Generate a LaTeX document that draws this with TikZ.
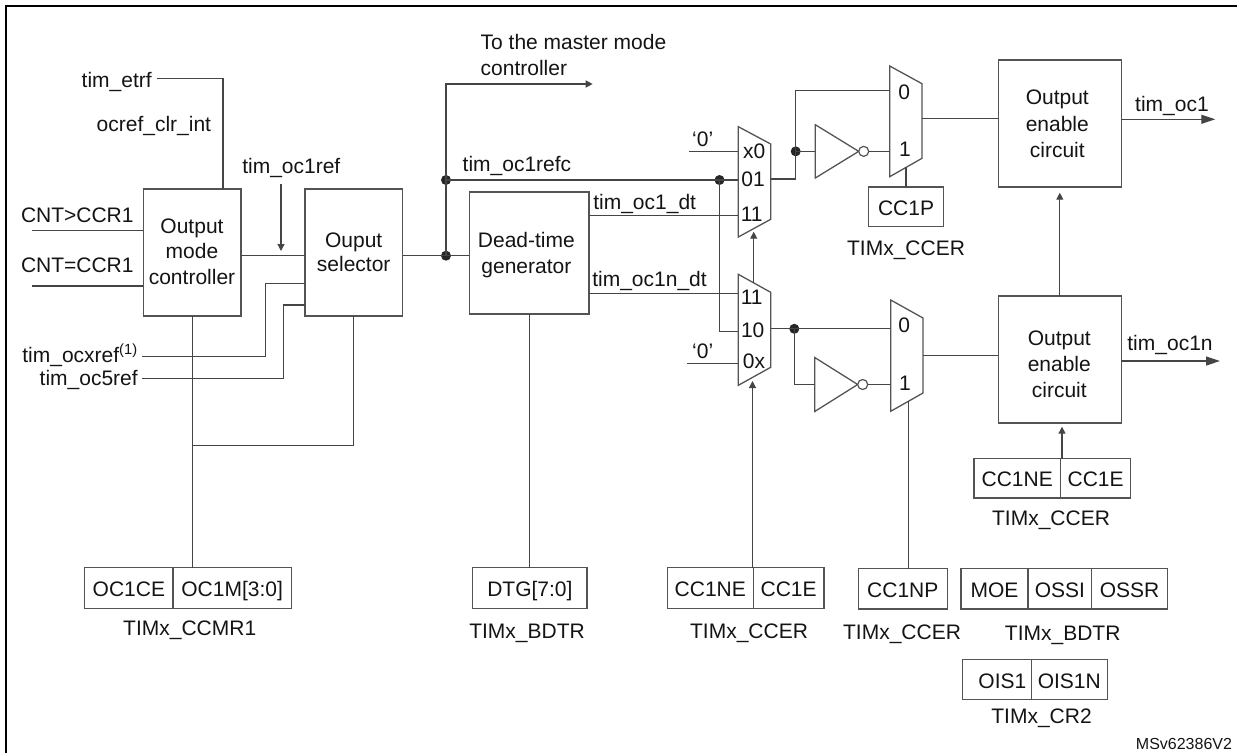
\documentclass[tikz,border=0pt]{standalone}
\usepackage{fontspec}
\setmainfont{Liberation Sans}
\usetikzlibrary{arrows.meta,calc}
\definecolor{wirec}{gray}{0.27}
\definecolor{boxc}{gray}{0.33}
\definecolor{textc}{gray}{0.08}
\tikzset{
  wire/.style={draw=wirec,line width=1.2pt,line join=miter},
  arr/.style={wire,-{Triangle[length=7pt,width=7pt]}},
  bigarr/.style={wire,-{Triangle[length=14pt,width=9pt]}},
  boxst/.style={draw=boxc,line width=1.3pt,rectangle,inner sep=0pt,outer sep=0pt,text=textc,
    font=\fontsize{21}{25}\selectfont},
  cellst/.style={boxst,text height=17pt,text depth=0pt},
  ghost/.style={rectangle,inner sep=0pt,outer sep=0pt},
  shapest/.style={draw=boxc,line width=1.3pt,line join=miter},
  lbl/.style={inner sep=0pt,outer sep=0pt,text=textc,font=\fontsize{21}{25}\selectfont,anchor=base},
  lbll/.style={lbl,anchor=base west},
  multi/.style={inner sep=0pt,outer sep=0pt,text=textc,align=center,anchor=center},
  dotst/.style={circle,fill=black!85,draw=none,minimum size=10pt,inner sep=0pt,outer sep=0pt},
  bubble/.style={circle,draw=boxc,fill=white,line width=1.2pt,minimum size=10pt,inner sep=0pt,outer sep=0pt},
}
% name, x1, x2, y1, y2, text
\newcommand\boxnode[6]{\node[boxst,minimum width={#3-#2},minimum height={#5-#4}] (#1) at ({(#2+#3)/2},{(#4+#5)/2}) {#6};}
\newcommand\cellnode[6]{\node[cellst,minimum width={#3-#2},minimum height={#5-#4}] (#1) at ({(#2+#3)/2},{(#4+#5)/2}) {#6};}
% name, x1, x2, left top, left bottom, right top, right bottom
\newcommand\muxnode[7]{%
  \node[ghost,minimum width={#3-#2},minimum height={#5-#4}] (#1) at ({(#2+#3)/2},{(#4+#5)/2}) {};
  \draw[shapest] (#2,#4) -- (#3,#6) -- (#3,#7) -- (#2,#5) -- cycle;}
% name, x1, tip x, top, bottom
\newcommand\invnode[5]{%
  \node[ghost,minimum width={#3-#2},minimum height={#5-#4}] (#1) at ({(#2+#3)/2},{(#4+#5)/2}) {};
  \draw[shapest] (#2,#4) -- (#3,{(#4+#5)/2}) -- (#2,#5) -- cycle;}
\begin{document}
\begin{tikzpicture}[x=1pt,y=-1pt]
\useasboundingbox (0,0) rectangle (1237,753);
\draw[black,line width=2.2pt] (6,753) -- (6,6) -- (1237,6);

% blocks
\boxnode{omc}{143.3}{241}{189}{316}{}
\boxnode{sel}{305}{402.5}{189}{316}{}
\boxnode{dt}{469.3}{589}{192}{314}{}
\boxnode{ena}{998.3}{1121.3}{60}{187}{}
\boxnode{enb}{998.3}{1121.3}{296}{423}{}
\node[multi,font=\fontsize{21}{25.3}\selectfont] (omct) at (192,251.6) {Output\\mode\\controller};
\node[multi,font=\fontsize{21}{24.4}\selectfont] (selt) at (353.7,252) {Ouput\\selector};
\node[multi,font=\fontsize{21}{26}\selectfont] (dtt) at (526.4,255) {Dead-time\\generator};
\node[multi,font=\fontsize{21}{26.3}\selectfont] (enat) at (1057.3,123.8) {Output\\enable\\circuit};
\node[multi,font=\fontsize{21}{26}\selectfont] (enbt) at (1059.3,364.2) {Output\\enable\\circuit};

% multiplexers and inverters
\muxnode{mux1}{738.3}{770.7}{126.7}{237}{144}{219.3}
\muxnode{mux2}{738.3}{770.7}{274.3}{385.3}{292.3}{367.3}
\muxnode{muxa}{889.7}{922}{66}{176.7}{83.7}{158.3}
\muxnode{muxb}{890.7}{923}{300}{411.3}{318}{393}
\invnode{inva}{815.3}{858.7}{124.7}{178}
\invnode{invb}{814.7}{857.7}{357.5}{411.5}
\node[bubble] (buba) at (863.7,151.35) {};
\node[bubble] (bubb) at (862.7,384.5) {};

% mux pin labels
\node[lbl] (lx0) at (754.3,158.7) {x0};
\node[lbl] (l01) at (753,186.7) {01};
\node[lbl] (l11) at (751.7,221.7) {11};
\node[lbl] (lb11) at (751.7,304) {11};
\node[lbl] (lb10) at (752.7,337.3) {10};
\node[lbl] (lb0x) at (754,368.3) {0x};
\node[lbl] (la0) at (904.3,99) {0};
\node[lbl] (la1) at (905,156.7) {1};
\node[lbl] (lc0) at (904.3,332) {0};
\node[lbl] (lc1) at (905,390.7) {1};

% register cells
\cellnode{oc1ce}{84.7}{173}{567.7}{608.3}{OC1CE}
\cellnode{oc1m}{173}{291.3}{567.7}{608.3}{OC1M[3:0]}
\cellnode{dtg}{472.7}{587}{567.7}{608.3}{DTG[7:0]}
\cellnode{cc1nea}{667.3}{753.3}{567.7}{608.3}{CC1NE}
\cellnode{cc1ea}{753.3}{824}{567.7}{608.3}{CC1E}
\cellnode{cc1np}{858.3}{947.3}{568.7}{609}{CC1NP}
\cellnode{moe}{961}{1028}{568.7}{609}{MOE}
\cellnode{ossi}{1028}{1091.7}{568.7}{609}{OSSI}
\cellnode{ossr}{1091.7}{1167.3}{568.7}{609}{OSSR}
\node[cellst,minimum height=39.6pt,text width=58.6pt,inner xsep=5pt,align=flush right] (ois1) at (997,679.5) {OIS1};
\cellnode{ois1n}{1031.3}{1107.3}{659.7}{699.3}{OIS1N}
\cellnode{cc1p}{868.3}{943.7}{187}{226.7}{CC1P}
\cellnode{cc1neb}{974}{1060.5}{458.7}{498}{CC1NE}
\cellnode{cc1eb}{1060.5}{1130.7}{458.7}{498}{CC1E}

% register captions
\node[lbl] (ccmr) at (189.7,635.7) {TIMx\_CCMR1};
\node[lbl] (bdtra) at (527,638) {TIMx\_BDTR};
\node[lbl] (ccera) at (749,638) {TIMx\_CCER};
\node[lbl] (ccerb) at (902,639) {TIMx\_CCER};
\node[lbl] (bdtrb) at (1062.7,640.3) {TIMx\_BDTR};
\node[lbl] (cr2) at (1041.5,723) {TIMx\_CR2};
\node[lbl] (ccerc) at (906,255) {TIMx\_CCER};
\node[lbl] (ccerd) at (1051,525) {TIMx\_CCER};
\node[lbl,anchor=base east,font=\fontsize{16}{19}\selectfont] (ver) at (1232,749.3) {MSv62386V2};

% signal labels
\node[lbll] (letrf) at (81.7,87.3) {tim\_etrf};
\node[lbll] (lclr) at (96.7,131.7) {ocref\_clr\_int};
\node[lbll] (lref) at (242.3,173) {tim\_oc1ref};
\node[lbll] (lgt) at (21,222.3) {CNT>CCR1};
\node[lbll] (leq) at (21,272.3) {CNT=CCR1};
\node[lbl,anchor=base east] (lx) at (137.7,362.3) {tim\_ocxref\textsuperscript{(1)}};
\node[lbl,anchor=base east] (l5) at (137.7,385) {tim\_oc5ref};
\node[lbll] (lma) at (480.7,49.3) {To the master mode};
\node[lbll] (lmb) at (480.7,75.7) {controller};
\node[lbll] (lrefc) at (462.7,171.7) {tim\_oc1refc};
\node[lbll] (ldt) at (593.3,209) {tim\_oc1\_dt};
\node[lbll] (ldtn) at (592.3,286.7) {tim\_oc1n\_dt};
\node[lbl] (lza) at (702.7,146) {‘0’};
\node[lbl] (lzb) at (702.7,358) {‘0’};
\node[lbl] (loa) at (1172,111) {tim\_oc1};
\node[lbl] (lob) at (1170,350.7) {tim\_oc1n};

% junction dots
\node[dotst] (d1) at (446,255.7) {};
\node[dotst] (d2) at (446,180) {};
\node[dotst] (d3) at (719.5,180) {};
\node[dotst] (d4) at (795.7,151.35) {};
\node[dotst] (d5) at (794.3,328.8) {};

% free ends
\coordinate (etrfs) at (156.7,78.7);
\coordinate (etrfk) at (223,78.7);
\coordinate (gts) at (31.7,230.3);
\coordinate (eqs) at (31.7,286);
\coordinate (refs) at (281,184);
\coordinate (reft) at (281,251);
\coordinate (mainy) at (270,255.7);
\coordinate (xs) at (142.3,356.3);
\coordinate (xk) at (265.7,283.3);
\coordinate (fs) at (142.3,378.3);
\coordinate (fk) at (283.3,305);
\coordinate (br) at (192,445.3);
\coordinate (mastt) at (592.7,84);
\coordinate (dtay) at (650,215.7);
\coordinate (dtby) at (650,293.3);
\coordinate (za) at (689,151.3);
\coordinate (zb) at (686.7,363.7);
\coordinate (m1o) at (770.7,179);
\coordinate (ma0) at (889.7,90.3);
\coordinate (mb1) at (738.3,331.7);
\coordinate (m2t) at (753.7,282.9);
\coordinate (m1t) at (753.7,231.7);
\coordinate (cct) at (752.5,567.7);
\coordinate (m2tip) at (752.5,381);
\coordinate (maout) at (960,118.7);
\coordinate (mbout) at (960,355.7);
\coordinate (mab) at (906,167);
\coordinate (mbb) at (908.3,401.3);
\coordinate (oa) at (1215.3,119.3);
\coordinate (ob) at (1220,361);
\coordinate (entip) at (1059.8,192.7);
\coordinate (eb) at (1062,458.7);
\coordinate (ebt) at (1062,426.7);

% connectors
\draw[wire] (etrfs) -- (etrfk) -- (etrfk |- omc.north);
\draw[wire] (gts) -- (omc.west |- gts);
\draw[wire] (eqs) -- (omc.west |- eqs);
\draw[arr] (refs) -- (reft);
\draw[wire] (omc.east |- mainy) -- (sel.west |- mainy);
\draw[wire] (xs) -| (xk) -- (sel.west |- xk);
\draw[wire] (fs) -| (fk) -- (sel.west |- fk);
\draw[wire] (omc.south) -- (oc1m.north -| omc.south);
\draw[wire] (br) -| (sel.south);
\draw[wire] (sel.east |- d1) -- (dt.west |- d1);
\draw[arr] (d1.center) |- (mastt);
\draw[wire] (d2.center) -- (mux1.west |- d2);
\draw[wire] (dt.south -| dtg.north) -- (dtg.north);
\draw[wire] (dt.east |- dtay) -- (mux1.west |- dtay);
\draw[wire] (dt.east |- dtby) -- (mux2.west |- dtby);
\draw[wire] (za) -- (mux1.west |- za);
\draw[wire] (zb) -- (mux2.west |- zb);
\draw[wire] (d3.center) |- (mb1);
\draw[wire] (m1o) -| (d4.center);
\draw[wire] (d4.center) |- (ma0);
\draw[wire] (d4.center) -- (inva.west |- d4);
\draw[wire] (buba.east) -- (muxa.west |- buba);
\draw[wire] (mux2.east |- d5) -- (d5.center) -- (muxb.west |- d5);
\draw[wire] (d5.center) |- (invb.west);
\draw[wire] (bubb.east) -- (muxb.west |- bubb);
\draw[arr] (m2t) -- (m1t);
\draw[arr] (cct) -- (m2tip);
\draw[wire] (mab) -- (cc1p.north);
\draw[wire] (mbb) -- (cc1np.north -| mbb);
\draw[wire] (muxa.east |- maout) -- (ena.west |- maout);
\draw[wire] (muxb.east |- mbout) -- (enb.west |- mbout);
\draw[bigarr] (ena.east |- oa) -- (oa);
\draw[bigarr] (enb.east |- ob) -- (ob);
\draw[arr] (enb.north) -- (entip);
\draw[arr] (eb) -- (ebt);
\end{tikzpicture}
\end{document}
